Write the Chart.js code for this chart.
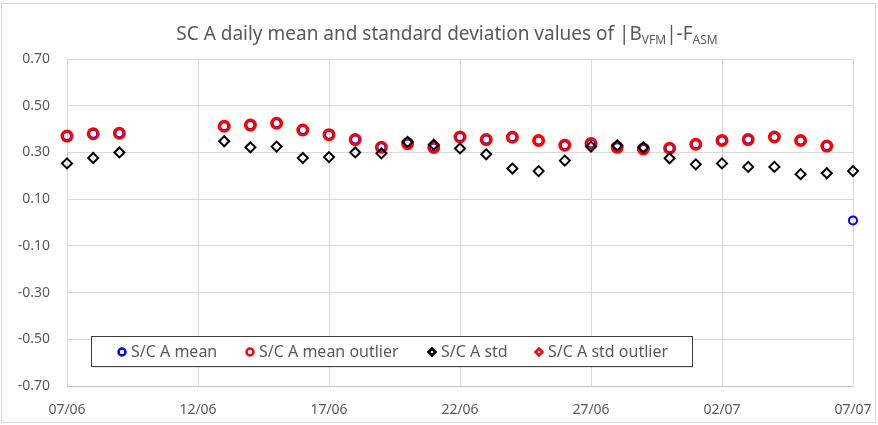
<!DOCTYPE html>
<html>
<head>
<meta charset="utf-8">
<script src="https://cdn.jsdelivr.net/npm/chart.js@4.4.0/dist/chart.umd.min.js"></script>
<style>
    html, body { margin: 0; padding: 0; background: #fff; }
    #wrap { position: relative; width: 878px; height: 425px; }
    #frame { position: absolute; left: 1px; top: 3px; width: 875px; height: 420px; border: 1px solid #d9d9d9; box-sizing: border-box; }
    #title { position: absolute; left: 8px; top: 22px; width: 878px; text-align: center;
             font-family: 'Noto Sans', sans-serif; font-size: 19px; color: #595959; line-height: 22px; }
    #title sub { font-size: 12px; vertical-align: -4px; line-height: 0; }
    #chart { position: absolute; left: 0; top: 0; }
</style>
</head>
<body>
<div id="wrap">
    <div id="frame"></div>
    <canvas id="chart" width="878" height="425"></canvas>
    <div id="title">SC A daily mean and standard deviation values of |B<sub>VFM</sub>|-F<sub>ASM</sub></div>
</div>
<script>
// jours du 07/06 au 07/07
const dates = ['07/06','08/06','09/06','10/06','11/06','12/06','13/06','14/06','15/06','16/06',
               '17/06','18/06','19/06','20/06','21/06','22/06','23/06','24/06','25/06','26/06',
               '27/06','28/06','29/06','30/06','01/07','02/07','03/07','04/07','05/07','06/07','07/07'];

const meanValues = [0.370, 0.380, 0.382, null, null, null, 0.412, 0.417, 0.425, 0.396,
                    0.376, 0.355, 0.322, 0.338, 0.321, 0.366, 0.355, 0.365, 0.351, 0.331,
                    0.338, 0.322, 0.315, 0.318, 0.335, 0.351, 0.355, 0.366, 0.351, 0.327, 0.009];

const meanOutliers = [0.370, 0.380, 0.382, null, null, null, 0.412, 0.417, 0.425, 0.396,
                      0.376, 0.355, 0.322, 0.338, 0.321, 0.366, 0.355, 0.365, 0.351, 0.331,
                      0.338, 0.322, 0.315, 0.318, 0.335, 0.351, 0.355, 0.366, 0.351, 0.327, null];

const stdValues = [0.253, 0.276, 0.300, null, null, null, 0.348, 0.322, 0.325, 0.276,
                   0.280, 0.300, 0.296, 0.345, 0.333, 0.317, 0.292, 0.231, 0.220, 0.265,
                   0.325, 0.330, 0.322, 0.275, 0.249, 0.253, 0.238, 0.238, 0.207, 0.211, 0.220];

const stdOutliers = dates.map(() => null); // aucun point aberrant visible

const yTicks = [-0.70, -0.50, -0.30, -0.10, 0.10, 0.30, 0.50, 0.70];

const textColor = '#595959';
const gridColor = '#d9d9d9';
const fontFamily = "'Noto Sans', sans-serif";

// légende encadrée dessinée dans la zone du graphique
const boxLegend = {
    id: 'boxLegend',
    afterDraw(chart) {
        const ctx = chart.ctx;
        const box = { x: 91, y: 336, w: 601, h: 30 };
        const markerX = [122, 250, 432, 539];
        ctx.save();
        ctx.fillStyle = 'rgba(0,0,0,0.2)';
        ctx.fillRect(box.x + 1, box.y + 1.5, box.w, box.h);
        ctx.fillStyle = '#fff';
        ctx.fillRect(box.x, box.y, box.w, box.h);
        ctx.strokeStyle = '#404040';
        ctx.lineWidth = 1;
        ctx.strokeRect(box.x + 0.5, box.y + 0.5, box.w, box.h);
        ctx.font = '16px ' + fontFamily;
        ctx.textBaseline = 'middle';
        const cy = box.y + box.h / 2 + 1;
        chart.data.datasets.forEach((ds, i) => {
            ctx.strokeStyle = ds.borderColor;
            ctx.fillStyle = 'rgba(0,0,0,0)';
            ctx.lineWidth = 2.5;
            Chart.helpers.drawPoint(ctx, { pointStyle: ds.pointStyle, radius: 3.5, rotation: 0, borderWidth: 2.5 }, markerX[i], cy);
            ctx.fillStyle = textColor;
            ctx.fillText(ds.label, markerX[i] + 9, cy);
        });
        ctx.restore();
    }
};

new Chart(document.getElementById('chart'), {
    type: 'line',
    data: {
        labels: dates,
        datasets: [
            {
                label: 'S/C A mean',
                data: meanValues,
                showLine: false,
                pointStyle: 'circle',
                pointRadius: 4,
                pointBorderWidth: 2,
                borderColor: '#0000ff',
                backgroundColor: 'rgba(255,255,255,0)',
                order: 3
            },
            {
                label: 'S/C A mean outlier',
                data: meanOutliers,
                showLine: false,
                pointStyle: 'circle',
                pointRadius: 5,
                pointBorderWidth: 3,
                borderColor: '#ff0000',
                backgroundColor: 'rgba(255,255,255,0)',
                order: 2
            },
            {
                label: 'S/C A std',
                data: stdValues,
                showLine: false,
                pointStyle: 'rectRot',
                pointRadius: 5,
                pointBorderWidth: 2,
                borderColor: '#000000',
                backgroundColor: 'rgba(255,255,255,0)',
                order: 1
            },
            {
                label: 'S/C A std outlier',
                data: stdOutliers,
                showLine: false,
                pointStyle: 'rectRot',
                pointRadius: 5,
                pointBorderWidth: 3,
                borderColor: '#ff0000',
                backgroundColor: 'rgba(255,255,255,0)',
                order: 0
            }
        ]
    },
    options: {
        responsive: false,
        animation: false,
        layout: { padding: { top: 59, right: 25, bottom: 0, left: 0 } },
        scales: {
            x: {
                offset: false,
                grid: {
                    drawTicks: false,
                    color: (c) => (c.index % 5 === 0 ? gridColor : 'rgba(0,0,0,0)')
                },
                border: { display: false },
                ticks: {
                    autoSkip: false,
                    maxRotation: 0,
                    padding: 16,
                    color: textColor,
                    font: { family: fontFamily, size: 14 },
                    callback: function(value, index) {
                        return index % 5 === 0 ? dates[index] : '';
                    }
                },
                afterFit: (scale) => {
                    scale.height = 39;
                    scale.paddingLeft = 0;
                    scale.paddingRight = 0;
                }
            },
            y: {
                min: -0.70,
                max: 0.70,
                afterBuildTicks: (scale) => { scale.ticks = yTicks.map(v => ({ value: v })); },
                grid: {
                    drawTicks: false,
                    color: (c) => (c.tick && c.tick.value === -0.70 ? '#bfbfbf' : gridColor)
                },
                border: { display: false },
                ticks: {
                    padding: 17,
                    color: textColor,
                    font: { family: fontFamily, size: 14 },
                    callback: (v) => Number(v).toFixed(2)
                },
                afterFit: (scale) => { scale.width = 67; }
            }
        },
        plugins: {
            legend: { display: false },
            title: { display: false },
            tooltip: { enabled: false }
        }
    },
    plugins: [boxLegend]
});
</script>
</body>
</html>
